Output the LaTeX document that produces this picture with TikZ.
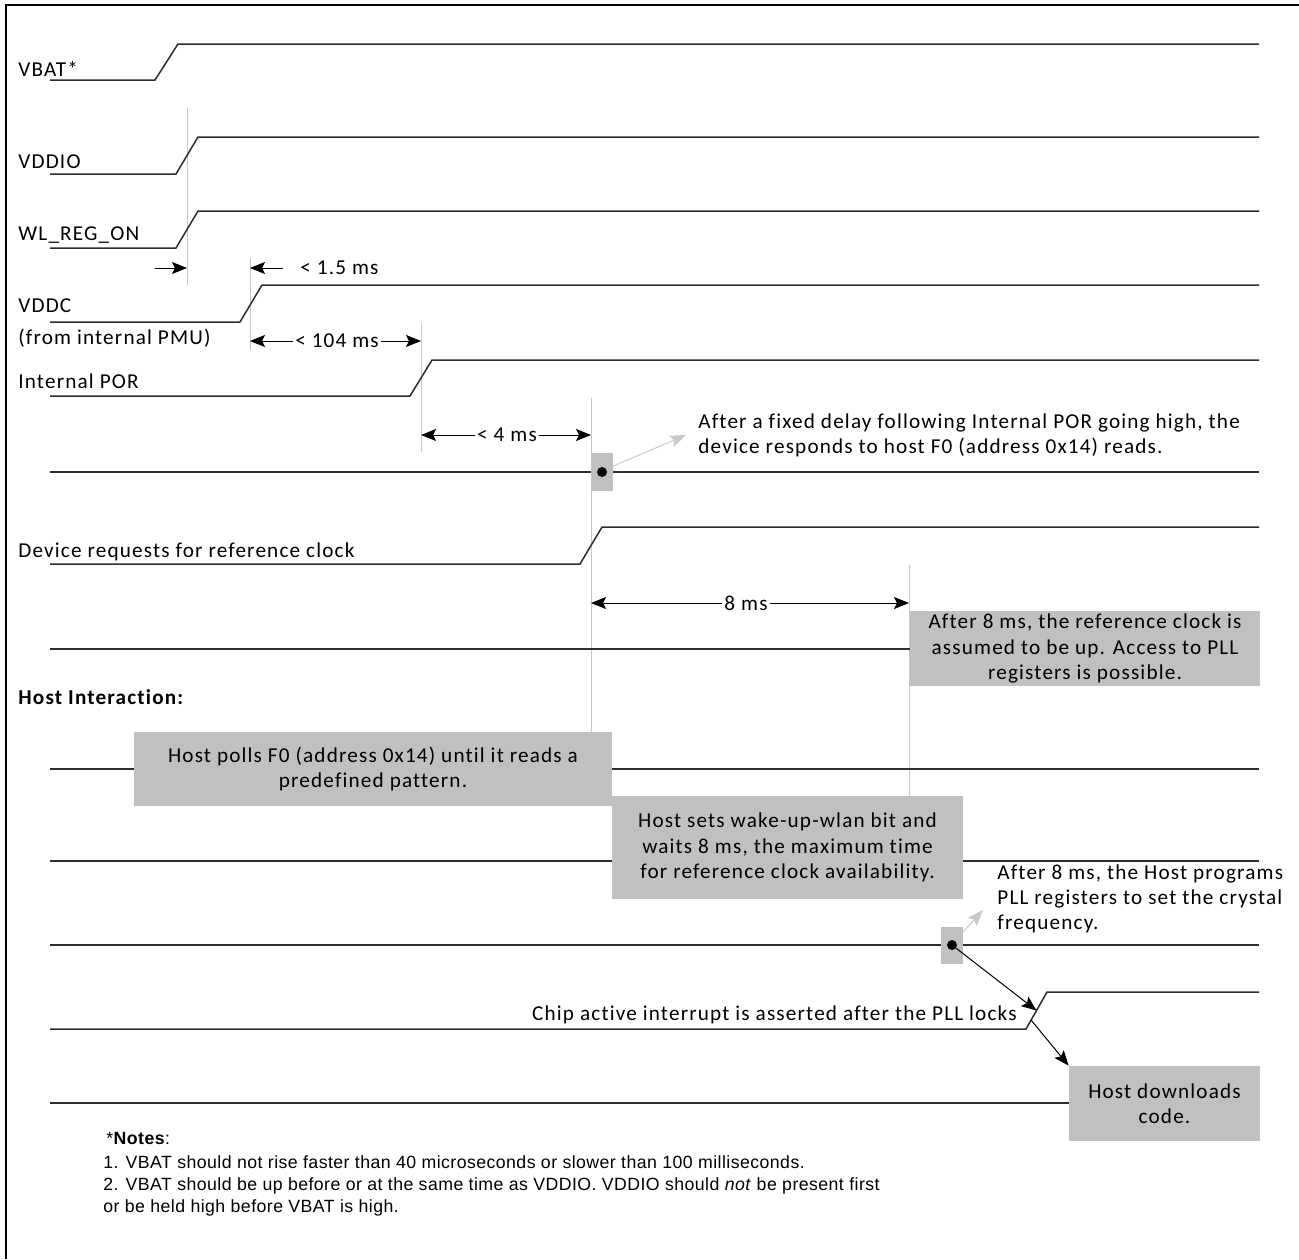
\documentclass[tikz,border=0pt]{standalone}
\usepackage{fontspec}
\setmainfont{Carlito}[LetterSpace=5.5,Ligatures=NoCommon]
\newfontfamily\notesfont{Liberation Sans}[LetterSpace=2.5]
\usetikzlibrary{arrows.meta,positioning,calc}

\definecolor{shade}{RGB}{192,192,192}
\definecolor{guidecol}{RGB}{200,200,200}
\definecolor{tracecol}{RGB}{45,45,45}

\newcommand{\tdsize}{\fontsize{10.6pt}{12.6pt}\selectfont}
\newcommand{\notesize}{\fontsize{8.85pt}{11pt}\selectfont}

\begin{document}
\begin{tikzpicture}[x=0.5pt,y=-0.5pt,font=\tdsize,
		wave/.style={draw=tracecol, line width=0.75pt},
		guide/.style={draw=guidecol, line width=0.5pt},
		dim/.style={-{Stealth[length=7.5pt,width=6pt,inset=1.5pt]}, line width=0.5pt},
		pointer/.style={draw=guidecol, -{Stealth[length=8pt,width=6pt,inset=1.5pt]}, line width=0.5pt},
		lbl/.style={anchor=base west, inner sep=0pt},
		dimtext/.style={inner sep=1pt},
		graybox/.style={fill=shade, align=center, inner sep=0pt},
		markbox/.style={fill=shade, inner sep=0pt, minimum width=11pt, minimum height=19pt},
		blob/.style={circle, fill=black, inner sep=0pt, minimum size=5pt}]
			\useasboundingbox (0,0) rectangle (1299,1259);
			% Frame (only left and top edges fall inside)
			\draw[line width=1.4pt] (6,1259) -- (6,5) -- (1299,5);
			
			% Light guide lines
			\draw[guide] (187,108) -- (187,285);
			\draw[guide] (250,258) -- (250,350);
			\draw[guide] (421,323) -- (421,452);
			\draw[guide] (591,398) -- (591,732);
			\draw[guide] (909,565) -- (909,796);
			
			% Power-up waveforms
			\draw[wave] (50,80) -- (155,80) -- (178,44) -- (1259,44);
			\draw[wave] (50,174) -- (176,174) -- (198,137) -- (1259,137);
			\draw[wave] (50,248) -- (176,248) -- (198,211) -- (1259,211);
			\draw[wave] (50,322) -- (240,322) -- (262,285) -- (1259,285);
			\draw[wave] (50,396) -- (410,396) -- (432,360) -- (1259,360);
			\draw[wave] (50,472) -- (1259,472);
			\draw[wave] (50,564) -- (580,564) -- (602,527) -- (1259,527);
			\draw[wave] (50,649) -- (1259,649);
			
			% Host interaction lines
			\foreach \yy in {769,861,945,1103}
				\draw[wave] (50,\yy) -- (1259,\yy);
			\coordinate (chiplow) at (1031,1020);
			\coordinate (chiprise) at (1036.5,1010.5);
			\draw[wave] (50,1029) -- (1026,1029) -- (1047,992) -- (1259,992);
			
			% Signal names
			\node[lbl] (vbat) at (18,76) {VBAT*};
			\node[lbl] (vddio) at (18,168) {VDDIO};
			\node[lbl] (wlreg) at (18,240) {WL\_REG\_ON};
			\node[lbl] (vddc) at (18,312) {VDDC};
			\node[lbl] (pmu) at (18,344) {(from internal PMU)};
			\node[lbl] (por) at (18,388) {Internal POR};
			\node[lbl] (devreq) at (18,557) {Device requests for reference clock};
			\node[lbl] (hostint) at (18,704) {\textbf{Host Interaction:}};
			
			% Timing marks
			\draw[dim] (155,268) -- (187,268);
			\draw[dim] (283,268) -- (250,268);
			\node[dimtext, anchor=west] (t15) at (298,268) {< 1.5 ms};
			\node[dimtext] (t104) at (337,341) {< 104 ms};
			\draw[dim] (t104.west) -- (250,341);
			\draw[dim] (t104.east) -- (421,341);
			\node[dimtext] (t4) at (507,435) {< 4 ms};
			\draw[dim] (t4.west) -- (421,435);
			\draw[dim] (t4.east) -- (591,435);
			\node[dimtext] (t8) at (746,603) {8 ms};
			\draw[dim] (t8.west) -- (591,603);
			\draw[dim] (t8.east) -- (909,603);
			
			% F0 read point
			\node[markbox] (rA) at (602,472) {};
			\node[blob] (dotA) at (602,472) {};
			\coordinate (fixtip) at (686,435);
			\draw[pointer] ([yshift=3pt]rA.east) -- (fixtip);
			\node[anchor=north west, align=left, inner sep=0pt] (fixnote) at (698,413) {After a fixed delay following Internal POR going high, the\\device responds to host F0 (address 0x14) reads.};
			
			% Grey boxes
			\node[graybox, minimum width=175pt, minimum height=37.5pt] (pllbox) at (1085,648.5) {After 8 ms, the reference clock is\\assumed to be up. Access to PLL\\registers is possible.};
			\node[graybox, minimum width=239pt, minimum height=37pt] (pollbox) at (373,769) {Host polls F0 (address 0x14) until it reads a\\predefined pattern.};
			\node[graybox, minimum width=175.5pt, minimum height=51.5pt] (wakebox) at (787.5,847.5) {Host sets wake-up-wlan bit and\\waits 8 ms, the maximum time\\for reference clock availability.};
			\node[graybox, minimum width=95.5pt, minimum height=37.5pt] (dlbox) at (1164.5,1103.5) {Host downloads\\code.};
			
			% PLL programming point
			\node[markbox, minimum height=18.5pt] (rB) at (952,945.5) {};
			\node[blob] (dotB) at (952,945) {};
			\coordinate (progtip) at (983,910);
			\draw[pointer] ([yshift=-2.5pt]rB.north east) -- (progtip);
			\node[anchor=north west, align=left, inner sep=0pt] (prognote) at (997,864) {After 8 ms, the Host programs\\PLL registers to set the crystal\\frequency.};
			\draw[dim] (dotB) -- (chiprise);
			\draw[dim] (chiplow) -- (dlbox.north west);
			\node[anchor=base east, inner sep=0pt] (chiplbl) at (1017,1020) {Chip active interrupt is asserted after the PLL locks};
			
			% Notes
			\node[anchor=base west, inner sep=0pt, font=\notesfont\notesize] (notehead) at (106,1144) {*\textbf{Notes}:};
			\node[anchor=north west, align=left, inner sep=0pt, font=\notesfont\notesize] (notebody) at (103,1155) {1. VBAT should not rise faster than 40 microseconds or slower than 100 milliseconds.\\2. VBAT should be up before or at the same time as VDDIO. VDDIO should \textit{not} be present first\\or be held high before VBAT is high.};
		\end{tikzpicture}
\end{document}
